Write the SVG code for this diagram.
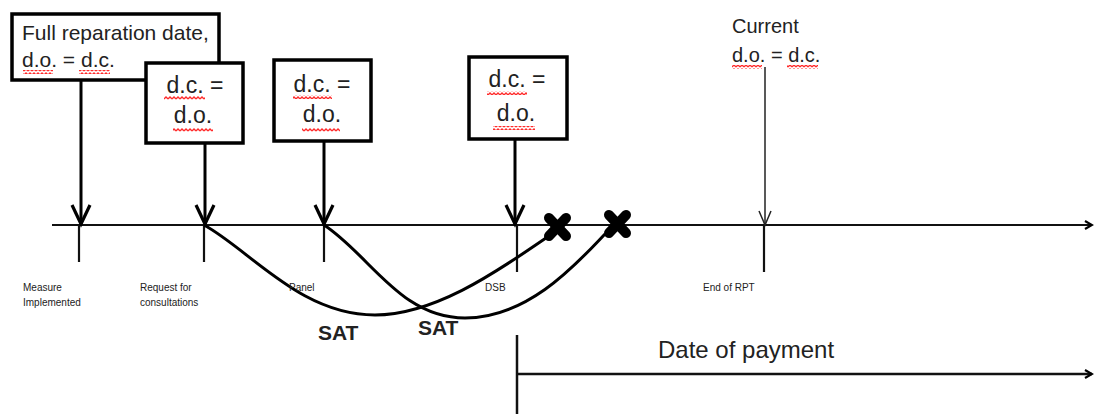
<svg xmlns="http://www.w3.org/2000/svg" width="1094" height="414" viewBox="0 0 1094 414">
<style>
.box{fill:#fff;stroke:#000;stroke-width:3.5}
.bt{font-family:"Liberation Sans",Arial,sans-serif;font-size:21px;fill:#222}
.bt2{font-family:"Liberation Sans",Arial,sans-serif;font-size:23px;fill:#222;text-anchor:middle}
.lbl{font-family:"Liberation Sans",Arial,sans-serif;font-size:10px;fill:#222}
.sat{font-family:"Liberation Sans",Arial,sans-serif;font-size:21px;font-weight:bold;fill:#222}
.ax{stroke:#111;stroke-width:2;fill:none}
.tk{stroke:#111;stroke-width:2.2;fill:none}
.thick{stroke:#000;stroke-width:3;fill:none}
.thin{stroke:#222;stroke-width:1.5;fill:none}
.crv{stroke:#000;stroke-width:3;fill:none}
.x{stroke:#000;stroke-width:10;stroke-linecap:round}
.sq{fill:url(#sq)}
</style>
<defs>
<marker id="ahThick" markerUnits="userSpaceOnUse" orient="auto" markerWidth="20" markerHeight="22" refX="0" refY="0" overflow="visible">
<path d="M-19,-9 L0,0 L-19,9" fill="none" stroke="#000" stroke-width="3.2" stroke-linejoin="miter"/>
</marker>
<marker id="ahThin" markerUnits="userSpaceOnUse" orient="auto" markerWidth="14" markerHeight="14" refX="0" refY="0" overflow="visible">
<path d="M-14,-6 L0,0 L-14,6" fill="none" stroke="#222" stroke-width="1.5"/>
</marker>
<marker id="ahEnd" markerUnits="userSpaceOnUse" orient="auto" markerWidth="10" markerHeight="10" refX="0" refY="0" overflow="visible">
<path d="M-7,-4 L0,0 L-7,4" fill="none" stroke="#000" stroke-width="2.2"/>
</marker>
<pattern id="sq" patternUnits="userSpaceOnUse" width="4" height="4">
<path d="M0,3 L2,1 L4,3" fill="none" stroke="#ff2a2a" stroke-width="1.3"/>
</pattern>
</defs>

<g id="connectors">
<line class="ax" x1="52" y1="225" x2="1092" y2="225" marker-end="url(#ahEnd)"/>
<line class="tk" x1="79" y1="225" x2="79" y2="262"/>
<line class="tk" x1="204" y1="225" x2="204" y2="262"/>
<line class="tk" x1="324" y1="225" x2="324" y2="262"/>
<line class="tk" x1="517" y1="225" x2="517" y2="272"/>
<line class="tk" x1="764" y1="225" x2="764" y2="272"/>
<line class="thick" x1="81" y1="80" x2="81" y2="224" marker-end="url(#ahThick)"/>
<line class="thick" x1="205" y1="143" x2="205" y2="224" marker-end="url(#ahThick)"/>
<line class="thick" x1="324" y1="141" x2="324" y2="224" marker-end="url(#ahThick)"/>
<line class="thick" x1="515" y1="139" x2="515" y2="224" marker-end="url(#ahThick)"/>
<line class="thin" x1="765" y1="67" x2="765" y2="225" marker-end="url(#ahThin)"/>
<path class="crv" d="M204,225 C250,250 300,315 375,315 C440,315 510,262 549,236"/>
<path class="crv" d="M324,225 C370,255 400,318 465,318 C530,318 580,260 605,234"/>
<line class="tk" x1="517" y1="335" x2="517" y2="414" style="stroke-width:2.5"/>
<line class="tk" x1="517" y1="374" x2="1092" y2="374" style="stroke-width:2.5" marker-end="url(#ahEnd)"/>
</g>

<g id="x1"><line class="x" x1="549" y1="218" x2="566" y2="236"/><line class="x" x1="566" y1="218" x2="549" y2="236"/></g>
<g id="x2"><line class="x" x1="609" y1="215" x2="626" y2="233"/><line class="x" x1="626" y1="215" x2="609" y2="233"/></g>

<g id="box-full-reparation">
<rect class="box" x="12" y="14" width="207" height="66"/>
<text class="bt" x="22" y="40">Full reparation date,</text>
<text class="bt" x="22" y="67">d.o. = d.c.</text>
<rect class="sq" x="23" y="70" width="30" height="4"/>
<rect class="sq" x="79" y="70" width="31" height="4"/>
</g>

<g id="box-request">
<rect class="box" x="146" y="63" width="97" height="80"/>
<text class="bt2" x="195" y="93">d.c. =</text>
<text class="bt2" x="193" y="123">d.o.</text>
<rect class="sq" x="164" y="96" width="41" height="4"/>
<rect class="sq" x="173" y="128" width="40" height="4"/>
</g>

<g id="box-panel">
<rect class="box" x="274" y="60" width="97" height="81"/>
<text class="bt2" x="322" y="92">d.c. =</text>
<text class="bt2" x="322" y="122">d.o.</text>
<rect class="sq" x="293" y="95" width="39" height="4"/>
<rect class="sq" x="302" y="128" width="38" height="4"/>
</g>

<g id="box-dsb">
<rect class="box" x="469" y="57" width="98" height="82"/>
<text class="bt2" x="517" y="87">d.c. =</text>
<text class="bt2" x="516" y="121">d.o.</text>
<rect class="sq" x="487" y="91" width="40" height="4"/>
<rect class="sq" x="493" y="126" width="42" height="4"/>
</g>

<g id="current">
<text class="bt" x="732" y="33" style="font-size:20px">Current</text>
<text class="bt" x="732" y="62" style="font-size:20px">d.o. = d.c.</text>
<rect class="sq" x="732" y="65" width="30" height="4"/>
<rect class="sq" x="787" y="65" width="31" height="4"/>
</g>

<g id="labels">
<text class="lbl" x="23" y="291">Measure</text>
<text class="lbl" x="23" y="306">Implemented</text>
<text class="lbl" x="140" y="291">Request for</text>
<text class="lbl" x="140" y="306">consultations</text>
<text class="lbl" x="289" y="291">Panel</text>
<text class="lbl" x="485" y="291">DSB</text>
<text class="lbl" x="703" y="291">End of RPT</text>
<text class="sat" x="318" y="340">SAT</text>
<text class="sat" x="418" y="335">SAT</text>
<text class="bt" x="658" y="358" style="font-size:24px">Date of payment</text>
</g>
</svg>
